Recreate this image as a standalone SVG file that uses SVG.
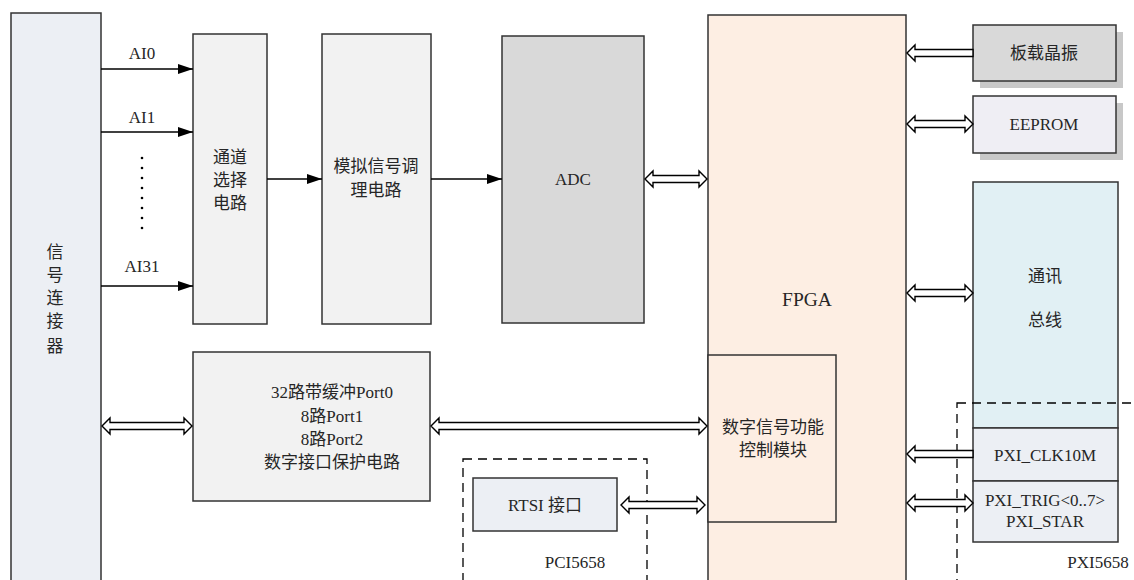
<svg xmlns="http://www.w3.org/2000/svg" width="1134" height="580" viewBox="0 0 1134 580">
<defs>
<marker id="ah" markerWidth="15" markerHeight="10" refX="15" refY="5" orient="auto" markerUnits="userSpaceOnUse">
<path d="M0,0 L15,5 L0,10 Z" fill="#000"/>
</marker>
<style>
.box{stroke:#333;stroke-width:1.5}
.t{font-family:"Liberation Serif","Noto Sans CJK SC",serif;font-size:17px;fill:#262626;text-anchor:middle;dominant-baseline:central}
.big{font-size:19.5px}
.ln{stroke:#000;stroke-width:1.5;fill:none}
.ha{fill:#fff;stroke:#000;stroke-width:1.4;stroke-linejoin:miter}
.dash{fill:none;stroke:#000;stroke-width:1.3;stroke-dasharray:9,6}
.shadow{fill:#c8c8c8}
</style>
</defs>
<rect width="1134" height="580" fill="#fff"/>

<g id="connector">
<rect class="box" x="11" y="13" width="90" height="580" fill="#eceff4"/>
<text class="t" x="55" y="252">信</text>
<text class="t" x="55" y="275">号</text>
<text class="t" x="55" y="298">连</text>
<text class="t" x="55" y="321">接</text>
<text class="t" x="55" y="346">器</text>
</g>

<g id="chsel">
<rect class="box" x="193" y="34" width="74" height="290" fill="#f2f2f2"/>
<text class="t" x="230" y="157">通道</text>
<text class="t" x="230" y="180">选择</text>
<text class="t" x="230" y="203">电路</text>
</g>

<g id="analog">
<rect class="box" x="322" y="34" width="109" height="290" fill="#f2f2f2"/>
<text class="t" x="376" y="166">模拟信号调</text>
<text class="t" x="376" y="190">理电路</text>
</g>

<g id="adc">
<rect class="box" x="502" y="36" width="142" height="287" fill="#d9d9d9"/>
<text class="t" x="573" y="179">ADC</text>
</g>

<g id="fpga">
<rect class="box" x="708" y="15" width="198" height="580" fill="#fdeee3"/>
<text class="t big" x="807" y="299">FPGA</text>
</g>

<g id="dsp">
<rect class="box" x="708" y="355" width="128" height="167" fill="#fdeee3"/>
<text class="t" x="773" y="427">数字信号功能</text>
<text class="t" x="773" y="450">控制模块</text>
</g>

<g id="digital">
<rect class="box" x="193" y="352" width="237" height="149" fill="#f2f2f2"/>
<text class="t" x="332" y="392">32路带缓冲Port0</text>
<text class="t" x="332" y="416">8路Port1</text>
<text class="t" x="332" y="439">8路Port2</text>
<text class="t" x="332" y="462">数字接口保护电路</text>
</g>

<g id="pci">
<rect class="dash" x="463" y="459" width="184" height="140"/>
<text class="t" x="575" y="562">PCI5658</text>
</g>

<g id="rtsi">
<rect class="box" x="473" y="478" width="144" height="53" fill="#eceff4"/>
<text class="t" x="545" y="505">RTSI 接口</text>
</g>

<g id="osc">
<rect class="shadow" x="980" y="32" width="143" height="56"/>
<rect class="box" x="973" y="25" width="143" height="56" fill="#d9d9d9"/>
<text class="t" x="1044" y="53">板载晶振</text>
</g>

<g id="eeprom">
<rect class="shadow" x="980" y="103" width="143" height="57"/>
<rect class="box" x="973" y="96" width="143" height="57" fill="#efeef4"/>
<text class="t" x="1044" y="124">EEPROM</text>
</g>

<g id="bus">
<rect class="box" x="973" y="182" width="145" height="246" fill="#e1f0f4"/>
<text class="t" x="1045" y="276">通讯</text>
<text class="t" x="1045" y="320">总线</text>
</g>

<g id="pxiclk">
<rect class="box" x="973" y="428" width="145" height="53" fill="#eceff4"/>
<text class="t" x="1045" y="455">PXI_CLK10M</text>
</g>

<g id="pxitrig">
<rect class="box" x="973" y="481" width="145" height="61" fill="#eceff4"/>
<text class="t" x="1045" y="500">PXI_TRIG&lt;0..7&gt;</text>
<text class="t" x="1045" y="521">PXI_STAR</text>
</g>

<g id="pxi">
<rect class="dash" x="957" y="403" width="200" height="200"/>
<text class="t" x="1098" y="562">PXI5658</text>
</g>

<g id="connectors">
<line class="ln" x1="101" y1="69" x2="193" y2="69" marker-end="url(#ah)"/>
<text class="t" x="142" y="53">AI0</text>
<line class="ln" x1="101" y1="132" x2="193" y2="132" marker-end="url(#ah)"/>
<text class="t" x="142" y="117">AI1</text>
<line class="ln" x1="101" y1="286" x2="193" y2="286" marker-end="url(#ah)"/>
<text class="t" x="142" y="266">AI31</text>
<g fill="#000">
<circle cx="142" cy="158" r="1.3"/><circle cx="142" cy="168" r="1.3"/><circle cx="142" cy="178" r="1.3"/><circle cx="142" cy="188" r="1.3"/>
<circle cx="142" cy="198" r="1.3"/><circle cx="142" cy="208" r="1.3"/><circle cx="142" cy="218" r="1.3"/><circle cx="142" cy="228" r="1.3"/>
</g>
<line class="ln" x1="267" y1="179" x2="322" y2="179" marker-end="url(#ah)"/>
<line class="ln" x1="431" y1="179" x2="502" y2="179" marker-end="url(#ah)"/>

<!-- ADC <-> FPGA -->
<polygon class="ha" points="645,179 653,171 653,175.5 699,175.5 699,171 707,179 699,187 699,182.5 653,182.5 653,187"/>
<!-- osc -> FPGA -->
<polygon class="ha" points="907,53 915,45 915,49.5 973,49.5 973,56.5 915,56.5 915,61"/>
<!-- EEPROM -->
<polygon class="ha" points="907,124 915,116 915,120.5 965,120.5 965,116 973,124 965,132 965,127.5 915,127.5 915,132"/>
<!-- bus -->
<polygon class="ha" points="907,293 915,285 915,289.5 965,289.5 965,285 973,293 965,301 965,296.5 915,296.5 915,301"/>
<!-- PXI_CLK -> FPGA -->
<polygon class="ha" points="907,454 915,446 915,450.5 973,450.5 973,457.5 915,457.5 915,462"/>
<!-- PXI_TRIG -->
<polygon class="ha" points="907,503 915,495 915,499.5 965,499.5 965,495 973,503 965,511 965,506.5 915,506.5 915,511"/>
<!-- connector <-> digital -->
<polygon class="ha" points="102,426 110,418 110,422.5 184,422.5 184,418 192,426 184,434 184,429.5 110,429.5 110,434"/>
<!-- digital <-> dsp -->
<polygon class="ha" points="431,426 439,418 439,422.5 699,422.5 699,418 707,426 699,434 699,429.5 439,429.5 439,434"/>
<!-- rtsi <-> dsp -->
<polygon class="ha" points="621,505 629,497 629,501.5 697,501.5 697,497 705,505 697,513 697,508.5 629,508.5 629,513"/>
</g>
</svg>
